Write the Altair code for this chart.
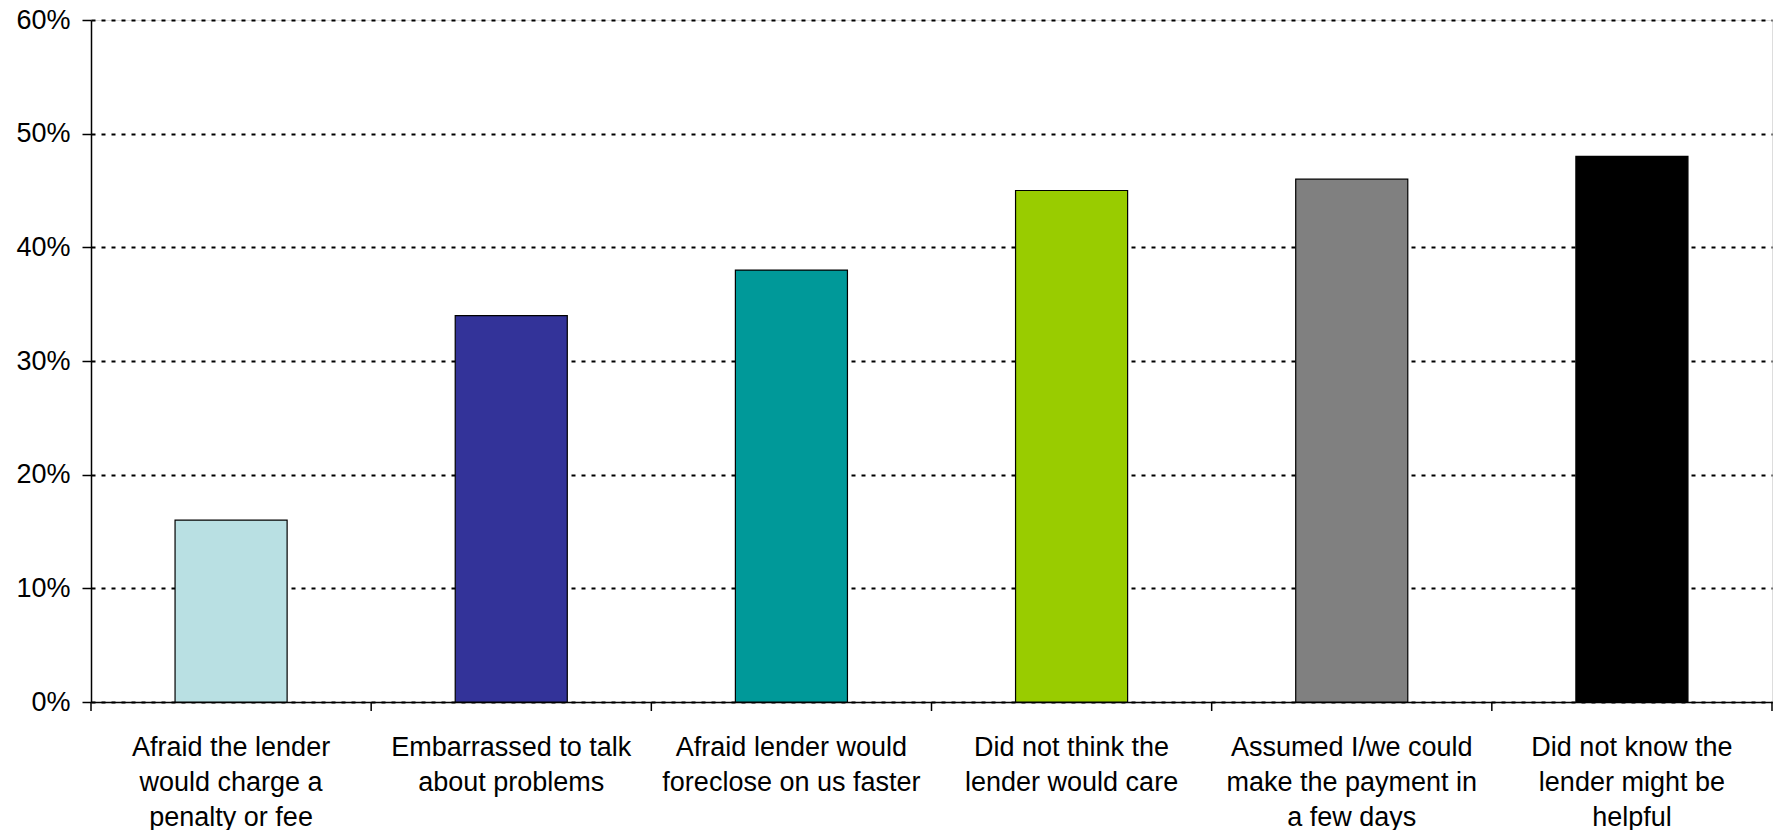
import altair as alt
import pandas as pd

categories = [
    "Afraid the lender|would charge a|penalty or fee",
    "Embarrassed to talk|about problems",
    "Afraid lender would|foreclose on us faster",
    "Did not think the|lender would care",
    "Assumed I/we could|make the payment in|a few days",
    "Did not know the|lender might be|helpful",
]
values = [0.16, 0.34, 0.38, 0.45, 0.46, 0.48]
colors = ["#B9E0E3", "#333399", "#009999", "#99CC00", "#808080", "#000000"]
y_ticks = [0, 0.1, 0.2, 0.3, 0.4, 0.5, 0.6]

df = pd.DataFrame({"cat": categories, "val": values})
last_df = pd.DataFrame({"cat": [categories[-1]]})

W, H = 1681, 682
FONT = "Liberation Sans"

xscale = alt.Scale(domain=categories, paddingInner=0, paddingOuter=0)
yscale = alt.Scale(domain=[0, 0.6], nice=False)

bars = alt.Chart(df).mark_bar(
    width=alt.RelativeBandSize(0.4), stroke="black", strokeWidth=1.2
).encode(
    x=alt.X("cat:N", sort=categories, scale=xscale, title=None,
            axis=alt.Axis(labelAngle=0, ticks=False, labelExpr="split(datum.label, '|')",
                          labelFont=FONT, labelFontSize=27, labelColor="black",
                          labelLineHeight=35, labelPadding=32, labelBaseline="top",
                          domainColor="black", domainWidth=1.5, labelLimit=400)),
    y=alt.Y("val:Q", scale=yscale, title=None,
            axis=alt.Axis(values=y_ticks, format=".0%", labelFont=FONT, labelFontSize=27,
                          labelColor="black", labelPadding=12, tickSize=9, tickColor="black",
                          tickWidth=1.5, domainColor="black", domainWidth=1.5,
                          grid=True, gridColor="black", gridDash=[4, 6], gridWidth=2)),
    color=alt.Color("cat:N", scale=alt.Scale(domain=categories, range=colors), legend=None),
)

ticks0 = alt.Chart(df).mark_rule(color="black", strokeWidth=1.5).encode(
    x=alt.X("cat:N", sort=categories, scale=xscale, bandPosition=0),
    y=alt.value(H), y2=alt.value(H + 9),
)
ticks1 = alt.Chart(last_df).mark_rule(color="black", strokeWidth=1.5).encode(
    x=alt.X("cat:N", sort=categories, scale=xscale, bandPosition=1),
    y=alt.value(H), y2=alt.value(H + 9),
)

chart = alt.layer(bars, ticks0, ticks1).properties(
    width=W, height=H, autosize=alt.AutoSizeParams(type="none"),
    padding={"left": 91, "top": 20, "right": 1, "bottom": 128},
).configure_view(stroke=None).configure(background="white")

chart.save("out.html", embed_options={"renderer": "svg", "actions": False})
